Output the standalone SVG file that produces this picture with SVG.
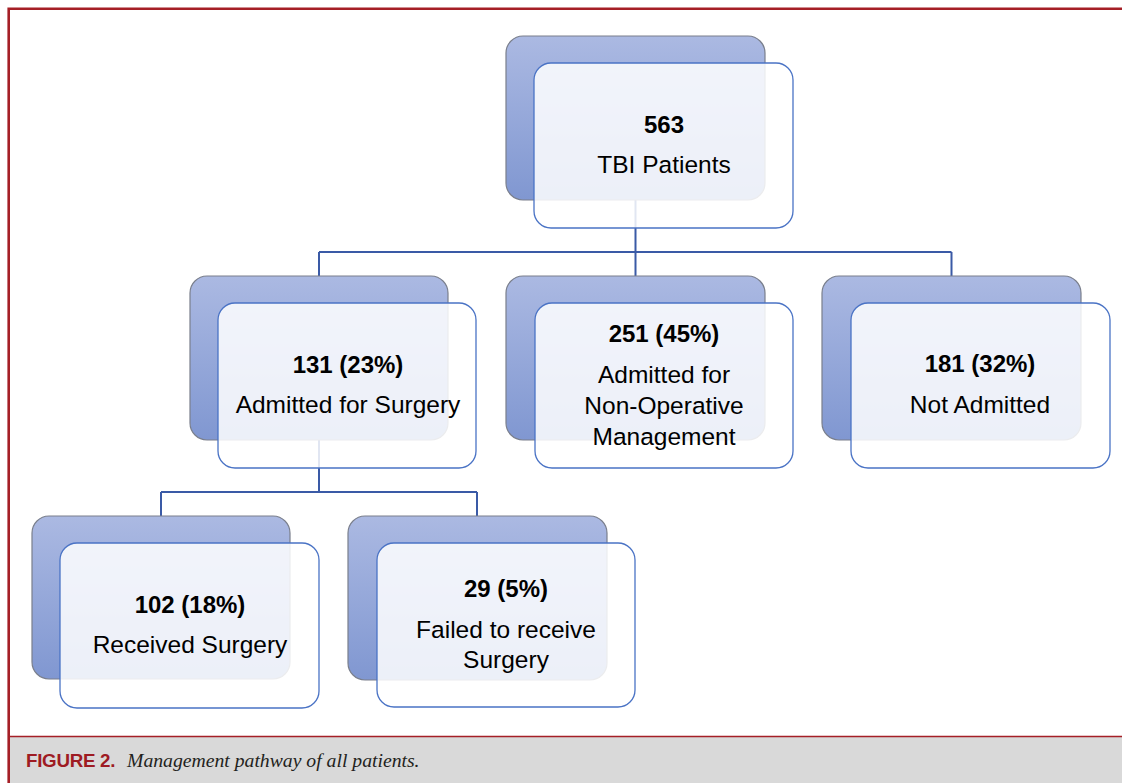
<svg xmlns="http://www.w3.org/2000/svg" width="1122" height="783" viewBox="0 0 1122 783">
<defs>
<linearGradient id="backGrad" x1="0" y1="0" x2="0" y2="1">
<stop offset="0" stop-color="#abb9e2"/>
<stop offset="1" stop-color="#8097d1"/>
</linearGradient>
<style>
.back{fill:url(#backGrad);stroke:#7a7f8c;stroke-width:1.2}
.front{fill:#ffffff;fill-opacity:0.85;stroke:#4a73c5;stroke-width:1.3}
.conn{fill:none;stroke:#3a5aa6;stroke-width:2}
.t{font-family:"Liberation Sans",Arial,sans-serif;font-size:24.5px;fill:#000;text-anchor:middle}
.b{font-weight:bold;font-size:24px}
.frame{stroke:#a51f26;stroke-width:2.6;fill:none}
</style>
</defs>
<rect x="0" y="0" width="1122" height="783" fill="#ffffff"/>
<rect x="9" y="737" width="1113" height="46" fill="#d9d9d9"/>
<line x1="9" y1="736.5" x2="1122" y2="736.5" stroke="#a51f26" stroke-width="1.6"/>
<path class="frame" d="M8.7,783 V8.7 H1122"/>
<text x="26" y="767" font-family="'Liberation Sans',Arial,sans-serif" font-size="18.8" font-weight="bold" fill="#9e1b23" letter-spacing="-0.3">FIGURE 2.</text>
<text x="127" y="767" font-family="'Liberation Serif','Times New Roman',serif" font-size="19.7" font-style="italic" fill="#231f20">Management pathway of all patients.</text>

<g id="connectors">
<path class="conn" d="M635.5,200 V252 M319,252 H951.5 M319,252 V276 M635.5,252 V276 M951.5,252 V276"/>
<path class="conn" d="M319,440 V492 M161,492 H477 M161,492 V516 M477,492 V516"/>
</g>

<g id="n563">
<rect class="back" x="506" y="36" width="259" height="164" rx="17"/>
<rect class="front" x="534" y="63" width="259" height="165" rx="17"/>
<text class="t b" x="664" y="133">563</text>
<text class="t" x="664" y="173">TBI Patients</text>
</g>

<g id="n131">
<rect class="back" x="190" y="276" width="258" height="164" rx="17"/>
<rect class="front" x="218" y="303" width="258" height="165" rx="17"/>
<text class="t b" x="348" y="373">131 (23%)</text>
<text class="t" x="348" y="413">Admitted for Surgery</text>
</g>

<g id="n251">
<rect class="back" x="506" y="276" width="259" height="164" rx="17"/>
<rect class="front" x="535" y="303" width="258" height="165" rx="17"/>
<text class="t b" x="664" y="342">251 (45%)</text>
<text class="t" x="664" y="383">Admitted for</text>
<text class="t" x="664" y="414">Non-Operative</text>
<text class="t" x="664" y="445">Management</text>
</g>

<g id="n181">
<rect class="back" x="822" y="276" width="259" height="164" rx="17"/>
<rect class="front" x="851" y="303" width="259" height="165" rx="17"/>
<text class="t b" x="980" y="372">181 (32%)</text>
<text class="t" x="980" y="413">Not Admitted</text>
</g>

<g id="n102">
<rect class="back" x="32" y="516" width="258" height="163" rx="17"/>
<rect class="front" x="60" y="543" width="259" height="165" rx="17"/>
<text class="t b" x="190" y="613">102 (18%)</text>
<text class="t" x="190" y="653">Received Surgery</text>
</g>

<g id="n29">
<rect class="back" x="348" y="516" width="259" height="164" rx="17"/>
<rect class="front" x="377" y="543" width="258" height="164" rx="17"/>
<text class="t b" x="506" y="597">29 (5%)</text>
<text class="t" x="506" y="638">Failed to receive</text>
<text class="t" x="506" y="668">Surgery</text>
</g>
</svg>
